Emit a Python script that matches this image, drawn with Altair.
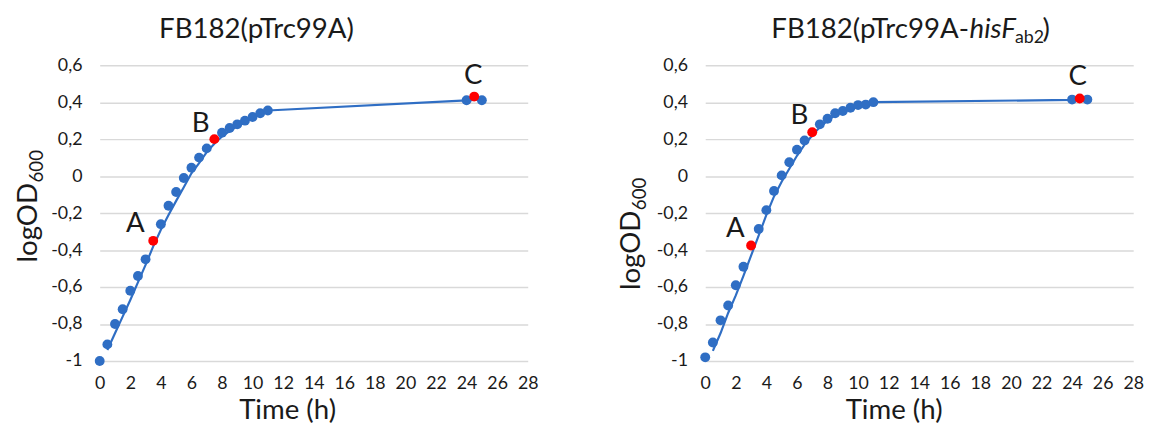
import altair as alt
import pandas as pd

# ---------------- data ----------------
time_h = [0, 0.5, 1, 1.5, 2, 2.5, 3, 3.5, 4, 4.5, 5, 5.5, 6, 6.5, 7, 7.5,
          8, 8.5, 9, 9.5, 10, 10.5, 11, 24, 24.5, 25]
od_empty = [-1.0, -0.91, -0.80, -0.72, -0.62, -0.54, -0.45, -0.35, -0.26, -0.16,
            -0.086, -0.01, 0.045, 0.10, 0.15, 0.20, 0.235, 0.26, 0.28, 0.30,
            0.32, 0.34, 0.355, 0.41, 0.43, 0.41]
od_hisf = [-0.98, -0.90, -0.78, -0.70, -0.59, -0.49, -0.375, -0.286, -0.184, -0.08,
           0.004, 0.075, 0.143, 0.193, 0.237, 0.28, 0.31, 0.34, 0.352, 0.37,
           0.384, 0.387, 0.40, 0.414, 0.42, 0.414]

fit_time = [0.5, 1, 1.5, 2, 2.5, 3, 3.5, 4, 4.5, 5, 5.5, 6, 6.5, 7, 7.5,
            8, 8.5, 9, 9.5, 10, 10.5, 11, 24, 25]
fit_empty = [-0.94, -0.85, -0.76, -0.67, -0.575, -0.48, -0.38, -0.29, -0.21, -0.134,
             -0.06, 0.015, 0.07, 0.13, 0.175, 0.215, 0.243, 0.27, 0.295, 0.317,
             0.337, 0.355, 0.41, 0.415]
fit_hisf = [-0.945, -0.85, -0.74, -0.645, -0.54, -0.43, -0.32, -0.21, -0.11, -0.03,
            0.04, 0.11, 0.17, 0.22, 0.265, 0.30, 0.33, 0.355, 0.373, 0.385,
            0.394, 0.40, 0.412, 0.415]

marks_empty = {"A": 3.5, "B": 7.5, "C": 24.5}
marks_hisf = {"A": 3.0, "B": 7.0, "C": 24.5}

x_ticks = [0, 2, 4, 6, 8, 10, 12, 14, 16, 18, 20, 22, 24, 26, 28]
y_ticks = [-1, -0.8, -0.6, -0.4, -0.2, 0, 0.2, 0.4, 0.6]

# ---------------- styling ----------------
FONT = "Lato"
BLUE = "#2F6EC4"
RED = "#FF0000"
GRID = "#D9D9D9"
INK = "#1A1A1A"

LABEL_EXPR = ("(datum.value < 0 ? '-' : '') + "
              "replace(format(abs(datum.value), '.1~f'), '.', ',')")

letter_offsets = {
    "empty": {"A": (-18, -17), "B": (-14, -15), "C": (-1, -21)},
    "hisf": {"A": (-16, -17), "B": (-13, -16), "C": (-2, -22)},
}


def text_piece(text, x, y, size, align="left", style="normal", angle=0):
    df = pd.DataFrame({"s": [text]})
    return alt.Chart(df).mark_text(
        font=FONT, fontSize=size, align=align, baseline="alphabetic",
        fontStyle=style, color=INK, angle=angle,
    ).encode(x=alt.value(x), y=alt.value(y), text="s:N")


def y_title(base_x, start_y):
    # "logOD" with a subscript "600", written bottom-to-top
    return [
        text_piece("logOD", base_x, start_y, 28, angle=270),
        text_piece("600", base_x + 6, start_y - 81, 19, angle=270),
    ]


def panel(od, fit, marks, offsets, extra_layers, width, height, xtitle_x):
    pts = pd.DataFrame({"t": time_h, "od": od})
    mark_times = set(marks.values())
    pts["role"] = ["mark" if t in mark_times else "obs" for t in time_h]
    pts["rank"] = [1 if r == "mark" else 0 for r in pts["role"]]
    fit_df = pd.DataFrame({"t": fit_time, "od": fit})

    x_enc = alt.X(
        "t:Q",
        scale=alt.Scale(domain=[0, 28], nice=False, zero=False),
        axis=alt.Axis(values=x_ticks, title="Time (h)", grid=False, ticks=False,
                      domain=False, labelPadding=14, labelFlush=False,
                      titleX=xtitle_x, titleY=36, titleAlign="center",
                      titleBaseline="top"),
    )
    y_enc = alt.Y(
        "od:Q",
        scale=alt.Scale(domain=[-1, 0.6], nice=False, zero=False),
        axis=alt.Axis(values=y_ticks, labelExpr=LABEL_EXPR, grid=True,
                      gridColor=GRID, gridWidth=1.5, ticks=False, domain=False,
                      labelPadding=18, title=None),
    )

    line = alt.Chart(fit_df).mark_line(color=BLUE, strokeWidth=2.2).encode(x=x_enc, y=y_enc)
    dots = alt.Chart(pts).mark_circle(size=100, opacity=1).encode(
        x=x_enc, y=y_enc,
        color=alt.Color("role:N", scale=alt.Scale(domain=["obs", "mark"], range=[BLUE, RED]),
                        legend=None),
        order=alt.Order("rank:Q"),
    )
    layers = [line, dots]
    for letter, t in marks.items():
        v = od[time_h.index(t)]
        dx, dy = offsets[letter]
        lab_df = pd.DataFrame({"t": [t], "od": [v], "lab": [letter]})
        layers.append(
            alt.Chart(lab_df).mark_text(dx=dx, dy=dy, fontSize=28, font=FONT, color=INK)
            .encode(x=x_enc, y=y_enc, text="lab:N")
        )
    layers.extend(extra_layers)
    return alt.layer(*layers).properties(width=width, height=height)


left_extra = [text_piece("FB182(pTrc99A)", 159, -28, 28, align="center")] + y_title(-64, 200)
right_extra = [
    text_piece("FB182(pTrc99A-", 67, -28, 28),
    text_piece("hisF", 268, -28, 28, style="italic"),
    text_piece("ab2", 314, -22, 18),
    text_piece(")", 342, -28, 28),
] + y_title(-66, 228)

left = panel(od_empty, fit_empty, marks_empty, letter_offsets["empty"], left_extra,
             434, 300, 190)
right = panel(od_hisf, fit_hisf, marks_hisf, letter_offsets["hisf"], right_extra,
              434, 300, 191)

chart = (
    alt.hconcat(left, right, spacing=81)
    .properties(padding={"left": 7, "top": 5, "right": 5, "bottom": 5})
    .configure_view(stroke=None)
    .configure_axis(labelFont=FONT, titleFont=FONT, labelFontSize=18, titleFontSize=28,
                    labelColor=INK, titleColor=INK, titleFontWeight="normal")
)

chart.save("out.html", embed_options={"renderer": "svg", "actions": False})
